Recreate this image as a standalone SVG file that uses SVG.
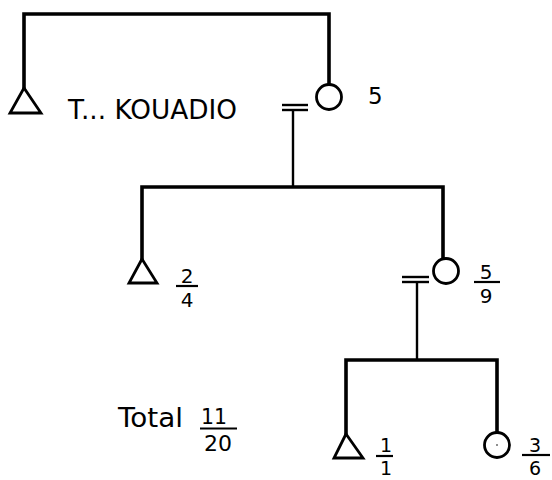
<svg xmlns="http://www.w3.org/2000/svg" width="552" height="480" viewBox="0 0 552 480">
<defs>
<style>
.line{stroke:#000;stroke-width:3.6;fill:none;stroke-linecap:square}
.thin{stroke:#000;stroke-width:2.4;fill:none}
.sym{stroke:#000;stroke-width:2.8;fill:#fff}
.t{font-family:"DejaVu Sans","Liberation Sans",sans-serif;fill:#000}
.f{font-size:20px;text-anchor:middle}
.bar{stroke:#000;stroke-width:2.2}
</style>
</defs>
<rect width="552" height="480" fill="#fff"/>
<g id="connectors">
<polyline class="line" points="24,88 24,14 329,14 329,84"/>
<line class="thin" x1="282" y1="105" x2="308" y2="105"/>
<line class="thin" x1="282" y1="110" x2="308" y2="110"/>
<line class="thin" x1="293" y1="110" x2="293" y2="187"/>
<polyline class="line" points="142,259 142,187 443,187 443,259"/>
<line class="thin" x1="402" y1="277" x2="429" y2="277"/>
<line class="thin" x1="402" y1="282" x2="429" y2="282"/>
<line class="thin" x1="417" y1="282" x2="417" y2="359"/>
<polyline class="line" points="346,434 346,360 497,360 497,432"/>
</g>
<g id="father">
<polygon class="sym" points="24,88 10,113 41,113"/>
<text class="t" x="68" y="119" font-size="26" textLength="169" lengthAdjust="spacingAndGlyphs">T... KOUADIO</text>
</g>
<g id="mother">
<circle class="sym" cx="329" cy="97" r="12.5"/>
<text class="t" x="368" y="104" font-size="23">5</text>
</g>
<g id="son1">
<polygon class="sym" points="142,259 129,283 157,283"/>
<text class="t f" x="187" y="283">2</text>
<line class="bar" x1="176" y1="286" x2="198" y2="286"/>
<text class="t f" x="187" y="307">4</text>
</g>
<g id="daughter1">
<circle class="sym" cx="446" cy="271" r="12.5"/>
<text class="t f" x="486" y="279">5</text>
<line class="bar" x1="474" y1="282" x2="500" y2="282"/>
<text class="t f" x="486" y="303">9</text>
</g>
<g id="grandson">
<polygon class="sym" points="346,434 334,458 363,458"/>
<text class="t" x="386" y="452" font-size="19" text-anchor="middle">1</text>
<line class="bar" x1="376" y1="456" x2="393" y2="456"/>
<text class="t" x="386" y="475" font-size="19" text-anchor="middle">1</text>
</g>
<g id="granddaughter">
<circle class="sym" cx="497" cy="445" r="12.5"/>
<circle cx="497" cy="445" r="0.8" fill="#000"/>
<text class="t" x="535" y="452" font-size="19" text-anchor="middle">3</text>
<line class="bar" x1="522" y1="455" x2="550" y2="455"/>
<text class="t" x="535" y="475" font-size="19" text-anchor="middle">6</text>
</g>
<g id="total">
<text class="t" x="118" y="427" font-size="27" textLength="65" lengthAdjust="spacingAndGlyphs">Total</text>
<text class="t" x="214" y="424" font-size="22" text-anchor="middle" textLength="26" lengthAdjust="spacingAndGlyphs">11</text>
<line class="bar" x1="200" y1="428.5" x2="237" y2="428.5"/>
<text class="t" x="218" y="451" font-size="22" text-anchor="middle">20</text>
</g>
</svg>
